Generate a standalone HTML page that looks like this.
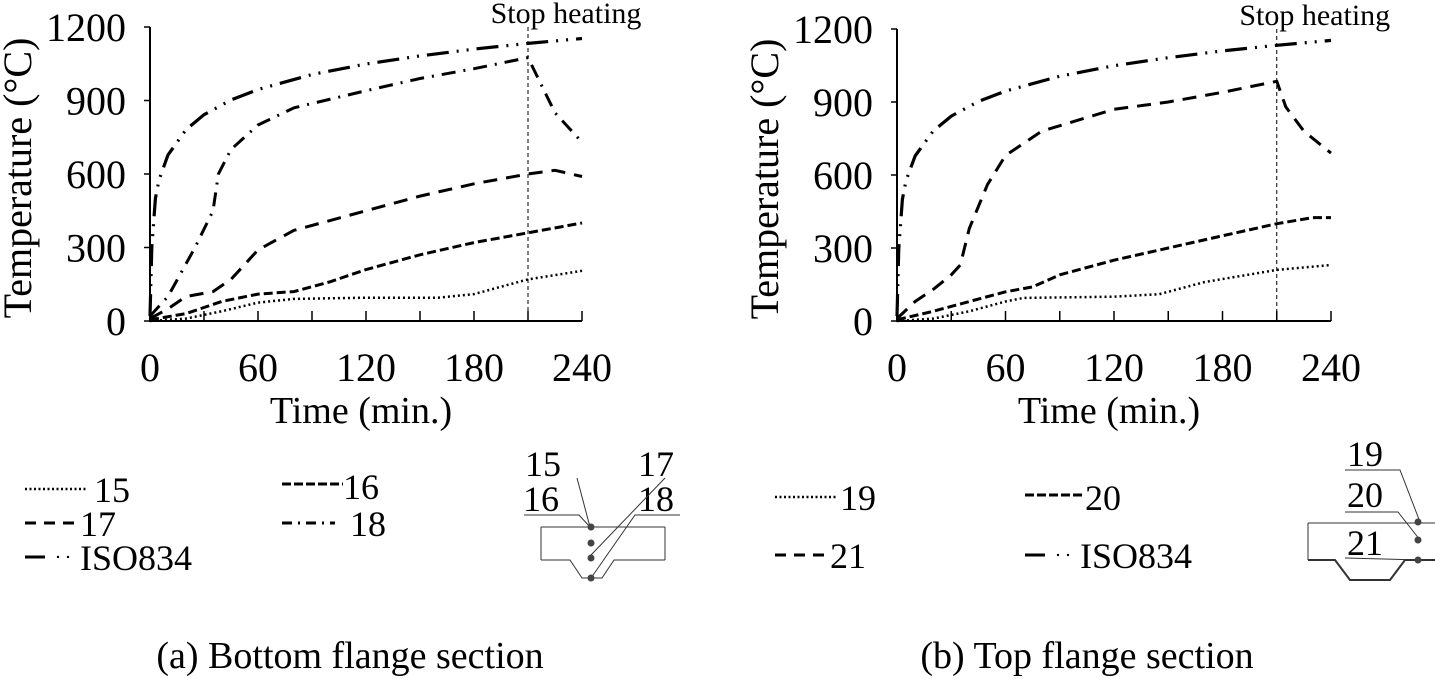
<!DOCTYPE html>
<html><head><meta charset="utf-8"><style>
html,body{margin:0;padding:0;background:#fff;}
svg{display:block;font-family:"Liberation Serif",serif;}
</style></head><body>
<svg id="root" width="1435" height="679" viewBox="0 0 1435 679" xmlns="http://www.w3.org/2000/svg">
<g id="chartA"></g>
<g id="chartB"></g>
<text x="350" y="668" font-size="38" text-anchor="middle">(a) Bottom flange section</text>
<text x="1087" y="668" font-size="38" text-anchor="middle">(b) Top flange section</text>

<g stroke="#000" stroke-width="3" font-size="36">
 <line x1="25" y1="489" x2="88" y2="489" stroke-width="2.5" stroke-dasharray="2,2.5"/>
 <text x="94" y="502" stroke="none">15</text>
 <line x1="282" y1="484" x2="343" y2="484" stroke-dasharray="9,3"/>
 <text x="343" y="499" stroke="none">16</text>
 <line x1="25" y1="523" x2="80" y2="523" stroke-dasharray="11,8"/>
 <text x="80" y="536" stroke="none">17</text>
 <line x1="282" y1="523" x2="335" y2="523" stroke-dasharray="10,6,2,6"/>
 <text x="350" y="536" stroke="none">18</text>
 <line x1="25" y1="557" x2="45" y2="557"/>
 <circle cx="58" cy="557" r="1.2" fill="#000" stroke="none"/><circle cx="68" cy="557" r="1.2" fill="#000" stroke="none"/>
 <text x="80" y="570" stroke="none">ISO834</text>
</g>
<g stroke="#000" stroke-width="3" font-size="36">
 <line x1="775" y1="497" x2="836" y2="497" stroke-width="2.5" stroke-dasharray="2,2.5"/>
 <text x="840" y="510" stroke="none">19</text>
 <line x1="1025" y1="495" x2="1085" y2="495" stroke-dasharray="9,3"/>
 <text x="1085" y="510" stroke="none">20</text>
 <line x1="775" y1="555" x2="830" y2="555" stroke-dasharray="11,8"/>
 <text x="830" y="568" stroke="none">21</text>
 <line x1="1025" y1="555" x2="1045" y2="555"/>
 <circle cx="1058" cy="555" r="1.2" fill="#000" stroke="none"/><circle cx="1068" cy="555" r="1.2" fill="#000" stroke="none"/>
 <text x="1080" y="568" stroke="none">ISO834</text>
</g>

<g stroke="#333" stroke-width="1" fill="none" font-size="36">
 <text x="525" y="476" fill="#000" stroke="none">15</text>
 <text x="638" y="476" fill="#000" stroke="none">17</text>
 <text x="523" y="511" fill="#000" stroke="none">16</text>
 <text x="638" y="511" fill="#000" stroke="none">18</text>
 <polyline points="524,515 579,515 590,527"/>
 <line x1="577" y1="478" x2="590" y2="527"/>
 <line x1="665" y1="478" x2="591" y2="555"/>
 <polyline points="680,515 635,515 591,578"/>
 <line x1="541" y1="527" x2="665" y2="527"/>
 <polyline points="541,560 570,560 582,578 602,578 614,560 665,560"/>
 <line x1="541" y1="527" x2="541" y2="560"/><line x1="665" y1="527" x2="665" y2="560"/>
 <g fill="#444" stroke="none"><circle cx="591" cy="527" r="3.5"/><circle cx="591" cy="543" r="3.5"/><circle cx="591" cy="558" r="3.5"/><circle cx="591" cy="578" r="3.5"/></g>
</g>
<g stroke="#333" stroke-width="1" fill="none" font-size="36">
 <text x="1347" y="466" fill="#000" stroke="none">19</text>
 <text x="1347" y="507" fill="#000" stroke="none">20</text>
 <text x="1347" y="555" fill="#000" stroke="none">21</text>
 <polyline points="1345,470 1400,470 1420,522"/>
 <polyline points="1345,512 1398,512 1420,540"/>
 <line x1="1345" y1="558" x2="1420" y2="560"/>
 <line x1="1308" y1="523" x2="1435" y2="523"/>
 <line x1="1308" y1="523" x2="1308" y2="560"/>
 <polyline points="1308,560 1335,560 1350,580 1390,580 1405,560 1435,560" stroke-width="2"/>
 <g fill="#444" stroke="none"><circle cx="1418" cy="522" r="3.5"/><circle cx="1418" cy="540" r="3.5"/><circle cx="1418" cy="560" r="3.5"/></g>
</g>
</svg>
<script>
const xTicks=[0,60,120,180,240];
const yTicks=[0,300,600,900,1200];
const isoT=[0,1,3,5,10,20,30,45,60,90,120,150,180,210,240];
const isoV=[20,300,500,576,678,781,842,902,945,1006,1049,1082,1110,1133,1153];
const a15T=[0,20,40,60,80,120,160,180,210,240];
const a15V=[0,10,40,75,90,95,95,110,170,205];
const a16T=[0,20,40,60,80,100,120,150,180,210,240];
const a16V=[5,30,80,110,120,160,210,270,320,360,400];
const a17T=[0,10,20,35,45,60,80,120,150,180,210,225,240];
const a17V=[10,50,100,120,170,290,370,450,510,560,600,615,590];
const a18T=[0,10,25,35,38,45,60,80,120,150,180,210,215,225,240];
const a18V=[20,100,300,450,600,700,800,870,940,990,1030,1075,1000,850,730];
const b19T=[0,20,40,60,70,120,145,170,210,240];
const b19V=[0,10,40,80,95,100,110,160,210,230];
const b20T=[0,20,40,60,75,90,120,150,180,210,230,240];
const b20V=[5,40,80,120,140,190,250,300,350,400,425,425];
const b21T=[0,10,20,30,35,40,50,60,80,120,150,180,210,215,225,240];
const b21V=[10,80,130,190,230,380,560,680,780,870,900,940,985,880,780,690];
const stopTime=210;
const NS="http://www.w3.org/2000/svg";
function mk(p,tag,at){const e=document.createElementNS(NS,tag);for(const k in at)e.setAttribute(k,at[k]);p.appendChild(e);return e;}
function draw(g,x0,x1,y0,y1,series){
 const X=t=>x0+(t/240)*(x1-x0), Y=v=>y0-(v/1200)*(y0-y1);
 series.forEach(s=>{
  let d="";for(let i=0;i<s.t.length;i++)d+=(i?"L":"M")+X(s.t[i]).toFixed(1)+","+Y(s.v[i]).toFixed(1);
  const p=mk(g,"path",{d:d,fill:"none",stroke:"#000","stroke-width":s.w,"stroke-dasharray":s.dash,"stroke-linejoin":"round"});
  
  
 });
 const sl=mk(g,"line",{x1:X(stopTime),x2:X(stopTime),y1:y1,y2:y0,stroke:"#000","stroke-width":1,"stroke-dasharray":"4,3"});
 
 
 const st=mk(g,"text",{x:X(stopTime)+38,y:y1-4,"font-size":30,"text-anchor":"middle"});st.textContent="Stop heating";
 
 
 const ax=mk(g,"path",{d:`M${x0},${y1}L${x0},${y0}L${x1},${y0}`,fill:"none",stroke:"#000","stroke-width":2});
 
 
 for(let t=30;t<=240;t+=30)mk(g,"line",{x1:X(t),x2:X(t),y1:y0,y2:y0-10,stroke:"#000","stroke-width":1.5});
 xTicks.forEach(t=>{const e=mk(g,"text",{x:X(t),y:y0+60,"font-size":40,"text-anchor":"middle"});e.textContent=t;
  
  });
 yTicks.forEach(v=>{mk(g,"line",{x1:x0-6,x2:x0,y1:Y(v),y2:Y(v),stroke:"#000","stroke-width":1.5});
  const e=mk(g,"text",{x:x0-24,y:Y(v)+14,"font-size":40,"text-anchor":"end"});e.textContent=v;
  
  });
 const xt=mk(g,"text",{x:(x0+x1)/2-5,y:y0+102,"font-size":38,"text-anchor":"middle"});xt.textContent="Time (min.)";
 
 
 const cy=(y0+y1)/2+4;
 const yt=mk(g,"text",{x:x0-132,y:cy,"font-size":40,"text-anchor":"middle",transform:`rotate(-90 ${x0-132} ${cy})`});
 yt.setAttribute('dy','13');yt.textContent="Temperature (°C)";
 
 
}
const ISO={n:"iso834",t:isoT,v:isoV,w:3.2,dash:"22,8,2,8,2,8"};
draw(document.getElementById("chartA"),150,582,321,27,[
 {n:"15",t:a15T,v:a15V,w:2.5,dash:"2,3"},
 {n:"16",t:a16T,v:a16V,w:3,dash:"9,4"},
 {n:"17",t:a17T,v:a17V,w:3,dash:"14,9"},
 {n:"18",t:a18T,v:a18V,w:3,dash:"14,8,2,8"},ISO]);
draw(document.getElementById("chartB"),897,1331,321,29,[
 {n:"19",t:b19T,v:b19V,w:2.5,dash:"2,3"},
 {n:"20",t:b20T,v:b20V,w:3,dash:"9,4"},
 {n:"21",t:b21T,v:b21V,w:3,dash:"14,9"},ISO]);
</script>
</body></html>
